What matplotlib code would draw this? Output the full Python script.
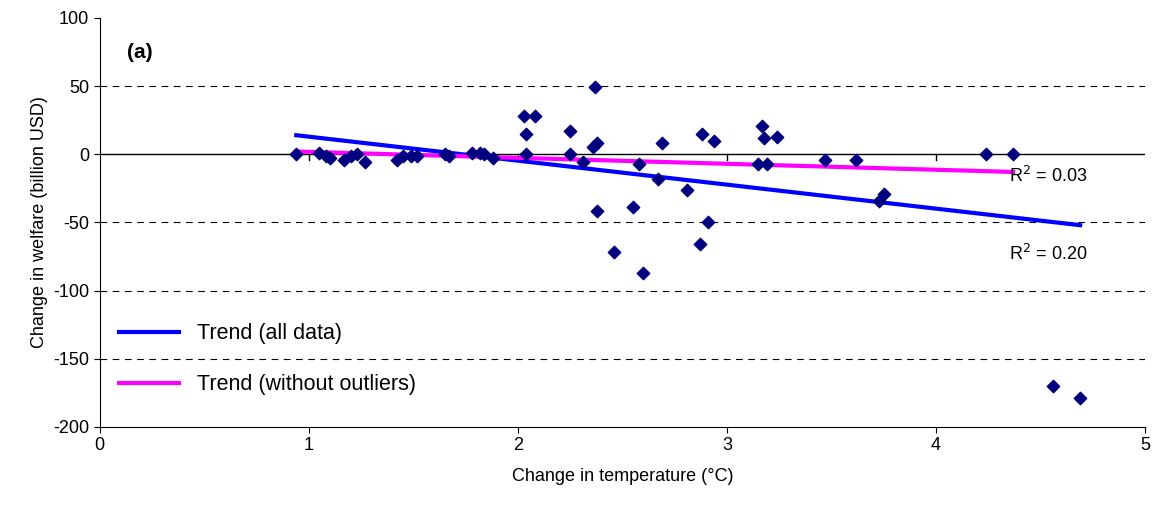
import matplotlib.pyplot as plt
import numpy as np

plt.rcParams['font.family'] = ['Liberation Sans', 'DejaVu Sans']
plt.rcParams['axes.unicode_minus'] = False

temp = [0.94, 1.05, 1.08, 1.10, 1.17, 1.20, 1.23, 1.27, 1.42, 1.45, 1.49, 1.52,
        1.65, 1.67, 1.78, 1.82, 1.84, 1.88, 2.03, 2.04, 2.04, 2.08, 2.25, 2.25,
        2.31, 2.36, 2.38, 2.37, 2.38, 2.46, 2.55, 2.58, 2.60, 2.67, 2.69, 2.81,
        2.87, 2.88, 2.91, 2.94, 3.15, 3.19, 3.17, 3.18, 3.24, 3.47, 3.62, 3.73,
        3.75, 4.24, 4.37, 4.56, 4.69]
welfare = [0, 1, -1, -3, -4, -1, 0, -6, -4, -1, -1, -1,
           0, -1, 1, 1, 0, -3, 28, 15, 0, 28, 17, 0,
           -6, 5, 8, 49, -42, -72, -39, -7, -87, -18, 8, -26,
           -66, 15, -50, 10, -7, -7, 21, 12, 13, -4, -4, -34,
           -29, 0, 0, -170, -179]

# trend lines (slope, intercept) and their x ranges
trend_all = (-17.6, 30.5, 0.94, 4.69)
trend_out = (-4.37, 6.1, 0.94, 4.37)

fig = plt.figure(figsize=(11.6, 5.13), dpi=100)
ax = fig.add_axes([0.086, 0.168, 0.901, 0.797])

for yv in [50, -50, -100, -150]:
    ax.axhline(yv, color='black', lw=0.8, ls=(0, (6, 5)), zorder=1)
ax.axhline(0, color='black', lw=1, zorder=1)
for xv in range(1, 5):
    ax.plot([xv, xv], [0, -4], color='black', lw=1, zorder=1)

ax.scatter(temp, welfare, marker='D', s=40, color='#000080', zorder=3)

m, b, x0, x1 = trend_all
xs = np.array([x0, x1])
ax.plot(xs, m * xs + b, color='#0000FF', lw=3, zorder=2, label='Trend (all data)')
m, b, x0, x1 = trend_out
xs = np.array([x0, x1])
ax.plot(xs, m * xs + b, color='#FF00FF', lw=3, zorder=2, label='Trend (without outliers)')

ax.text(4.35, -16, 'R$^2$ = 0.03', fontsize=13, va='center')
ax.text(4.35, -73, 'R$^2$ = 0.20', fontsize=13, va='center')
ax.text(0.13, 75, '(a)', fontsize=15, fontweight='bold', va='center')

ax.set_xlim(0, 5)
ax.set_ylim(-200, 100)
ax.set_xticks(range(0, 6))
ax.set_yticks(range(-200, 101, 50))
ax.tick_params(labelsize=13, direction='out', length=4)
ax.spines['top'].set_visible(False)
ax.spines['right'].set_visible(False)
ax.set_xlabel('Change in temperature (°C)', fontsize=13, labelpad=10)
ax.set_ylabel('Change in welfare (billion USD)', fontsize=13)
ax.legend(loc='lower left', bbox_to_anchor=(0.0, 0.03), frameon=False,
          fontsize=15.5, handlelength=2.8, labelspacing=1.4)

fig.savefig('out.png')
